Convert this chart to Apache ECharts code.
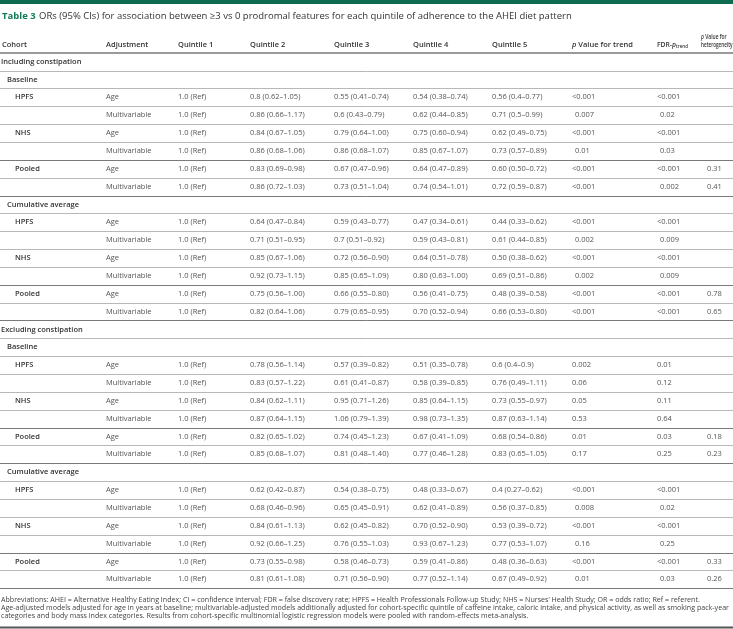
<!DOCTYPE html>
<html><head><meta charset="utf-8">
<script src="https://cdn.jsdelivr.net/npm/echarts@6.0.0/dist/echarts.min.js"></script>
<style>html,body{margin:0;padding:0;background:#fff}#c{width:733px;height:629px}</style>
</head><body><div id="c"></div>
<script>
// ---------- data ----------
const columnHeaders = ["Cohort","Adjustment","Quintile 1","Quintile 2","Quintile 3","Quintile 4","Quintile 5","p Value for trend","FDR-p trend","p Value for heterogeneity"];
const rowLabels = ["Including constipation","Baseline","HPFS","","NHS","","Pooled","","Cumulative average","HPFS","","NHS","","Pooled","",
  "Excluding constipation","Baseline","HPFS","","NHS","","Pooled","","Cumulative average","HPFS","","NHS","","Pooled",""];
const rowLevel = [0,1,2,3,2,3,2,3,1,2,3,2,3,2,3, 0,1,2,3,2,3,2,3,1,2,3,2,3,2,3];
const adjustment = ["","","Age","Multivariable","Age","Multivariable","Age","Multivariable","","Age","Multivariable","Age","Multivariable","Age","Multivariable",
  "","","Age","Multivariable","Age","Multivariable","Age","Multivariable","","Age","Multivariable","Age","Multivariable","Age","Multivariable"];
const quintile1 = rowLevel.map(l => (l >= 2 ? "1.0 (Ref)" : ""));
const quintile2 = ["","","0.8 (0.62–1.05)","0.86 (0.66–1.17)","0.84 (0.67–1.05)","0.86 (0.68–1.06)","0.83 (0.69–0.98)","0.86 (0.72–1.03)","","0.64 (0.47–0.84)","0.71 (0.51–0.95)","0.85 (0.67–1.06)","0.92 (0.73–1.15)","0.75 (0.56–1.00)","0.82 (0.64–1.06)",
  "","","0.78 (0.56–1.14)","0.83 (0.57–1.22)","0.84 (0.62–1.11)","0.87 (0.64–1.15)","0.82 (0.65–1.02)","0.85 (0.68–1.07)","","0.62 (0.42–0.87)","0.68 (0.46–0.96)","0.84 (0.61–1.13)","0.92 (0.66–1.25)","0.73 (0.55–0.98)","0.81 (0.61–1.08)"];
const quintile3 = ["","","0.55 (0.41–0.74)","0.6 (0.43–0.79)","0.79 (0.64–1.00)","0.86 (0.68–1.07)","0.67 (0.47–0.96)","0.73 (0.51–1.04)","","0.59 (0.43–0.77)","0.7 (0.51–0.92)","0.72 (0.56–0.90)","0.85 (0.65–1.09)","0.66 (0.55–0.80)","0.79 (0.65–0.95)",
  "","","0.57 (0.39–0.82)","0.61 (0.41–0.87)","0.95 (0.71–1.26)","1.06 (0.79–1.39)","0.74 (0.45–1.23)","0.81 (0.48–1.40)","","0.54 (0.38–0.75)","0.65 (0.45–0.91)","0.62 (0.45–0.82)","0.76 (0.55–1.03)","0.58 (0.46–0.73)","0.71 (0.56–0.90)"];
const quintile4 = ["","","0.54 (0.38–0.74)","0.62 (0.44–0.85)","0.75 (0.60–0.94)","0.85 (0.67–1.07)","0.64 (0.47–0.89)","0.74 (0.54–1.01)","","0.47 (0.34–0.61)","0.59 (0.43–0.81)","0.64 (0.51–0.78)","0.80 (0.63–1.00)","0.56 (0.41–0.75)","0.70 (0.52–0.94)",
  "","","0.51 (0.35–0.78)","0.58 (0.39–0.85)","0.85 (0.64–1.15)","0.98 (0.73–1.35)","0.67 (0.41–1.09)","0.77 (0.46–1.28)","","0.48 (0.33–0.67)","0.62 (0.41–0.89)","0.70 (0.52–0.90)","0.93 (0.67–1.23)","0.59 (0.41–0.86)","0.77 (0.52–1.14)"];
const quintile5 = ["","","0.56 (0.4–0.77)","0.71 (0.5–0.99)","0.62 (0.49–0.75)","0.73 (0.57–0.89)","0.60 (0.50–0.72)","0.72 (0.59–0.87)","","0.44 (0.33–0.62)","0.61 (0.44–0.85)","0.50 (0.38–0.62)","0.69 (0.51–0.86)","0.48 (0.39–0.58)","0.66 (0.53–0.80)",
  "","","0.6 (0.4–0.9)","0.76 (0.49–1.11)","0.73 (0.55–0.97)","0.87 (0.63–1.14)","0.68 (0.54–0.86)","0.83 (0.65–1.05)","","0.4 (0.27–0.62)","0.56 (0.37–0.85)","0.53 (0.39–0.72)","0.77 (0.53–1.07)","0.48 (0.36–0.63)","0.67 (0.49–0.92)"];
const pTrend = ["","","<0.001","0.007","<0.001","0.01","<0.001","<0.001","","<0.001","0.002","<0.001","0.002","<0.001","<0.001",
  "","","0.002","0.06","0.05","0.53","0.01","0.17","","<0.001","0.008","<0.001","0.16","<0.001","0.01"];
const fdrTrend = ["","","<0.001","0.02","<0.001","0.03","<0.001","0.002","","<0.001","0.009","<0.001","0.009","<0.001","<0.001",
  "","","0.01","0.12","0.11","0.64","0.03","0.25","","<0.001","0.02","<0.001","0.25","<0.001","0.03"];
const pHet = ["","","","","","","0.31","0.41","","","","","","0.78","0.65",
  "","","","","","","0.18","0.23","","","","","","0.33","0.26"];
const titleNumber = "Table 3";
const titleText = "ORs (95% CIs) for association between ≥3 vs 0 prodromal features for each quintile of adherence to the AHEI diet pattern";
const footnotes = [
  "Abbreviations: AHEI = Alternative Healthy Eating Index; CI = confidence interval; FDR = false discovery rate; HPFS = Health Professionals Follow-up Study; NHS = Nurses’ Health Study; OR = odds ratio; Ref = referent.",
  "Age-adjusted models adjusted for age in years at baseline; multivariable-adjusted models additionally adjusted for cohort-specific quintile of caffeine intake, caloric intake, and physical activity, as well as smoking pack-year",
  "categories and body mass index categories. Results from cohort-specific multinomial logistic regression models were pooled with random-effects meta-analysis."
];

// ---------- layout / style ----------
const W = 733;
const colX = [2, 106, 178, 250, 334, 413, 492, 572, 657, 707];
const hetHeaderX = 701;
const labelIndent = [1, 7, 15, 15];
const GREEN = "#137a5c";
const BOLD = "600 7.5px 'Open Sans', sans-serif";
const NORM = "400 7.5px 'Open Sans', sans-serif";
const TXT = "#555";
const DARK = "#333";

// block id per row (a block = rows under one Baseline / Cumulative average heading)
const blockId = [];
rowLevel.reduce((b, l, i) => { if (l <= 1) b++; blockId[i] = b; return b; }, 0);
function blockHasLess(arr, i) {
  return arr.some((v, j) => blockId[j] === blockId[i] && v.charAt(0) === '<');
}

const chart = echarts.init(document.getElementById('c'), null, {renderer: 'canvas'});
const cols = [adjustment, quintile1, quintile2, quintile3, quintile4, quintile5, pTrend, fdrTrend, pHet];

function renderItem(params, api) {
  const i = api.value(1);
  const c = api.coord([0, i]);
  const xr = api.coord([W, i])[0];
  const h = api.size([0, 1])[1];
  const y = c[1];
  const ch = [];
  if (rowLabels[i]) {
    ch.push({type: 'text', style: {text: rowLabels[i], x: api.coord([labelIndent[rowLevel[i]], i])[0], y: y,
      verticalAlign: 'middle', font: BOLD, fill: DARK}});
  }
  cols.forEach((arr, k) => {
    if (!arr[i]) return;
    let dx = 0;
    if ((k === 6 || k === 7) && arr[i].charAt(0) !== '<' && blockHasLess(arr, i)) dx = 3;
    ch.push({type: 'text', style: {text: arr[i], x: api.coord([colX[k + 1] + dx, i])[0], y: y,
      verticalAlign: 'middle', font: NORM, fill: TXT}});
  });
  const next = rowLabels[i + 1];
  const dark = next === "Pooled" || (rowLevel[i] === 3 && rowLabels[i - 1] === "Pooled");
  const ly = Math.round(y + h / 2) + 0.5;
  ch.push({type: 'line', shape: {x1: c[0], y1: ly, x2: xr, y2: ly},
    style: {stroke: dark ? '#7a7a7a' : '#b8b8b8', lineWidth: 1}});
  return {type: 'group', children: ch};
}

const RB = {fontWeight: 600, fontSize: 7.5, fontFamily: 'Open Sans', fill: DARK};
const headerGraphics = [];
const hy = 45;
[0,1,2,3,4,5,6].forEach(k => headerGraphics.push({type: 'text', x: colX[k], y: hy,
  style: {text: columnHeaders[k], font: BOLD, fill: DARK, verticalAlign: 'middle'}}));
headerGraphics.push({type: 'text', x: colX[7], y: hy, style: {
  text: '{i|p}{a| Value for trend}', verticalAlign: 'middle',
  rich: {i: Object.assign({}, RB, {fontStyle: 'italic'}), a: RB}}});
headerGraphics.push({type: 'text', x: colX[8], y: hy, scaleX: 0.9, style: {
  text: '{a|FDR-}{i|p}{s|trend}', verticalAlign: 'middle',
  rich: {a: RB, i: Object.assign({}, RB, {fontStyle: 'italic'}),
         s: {fontWeight: 600, fontSize: 5, fontFamily: 'Open Sans', fill: DARK, padding: [4, 0, 0, 0]}}}});
headerGraphics.push({type: 'text', x: hetHeaderX, y: hy - 8.5, scaleX: 0.66, style: {
  text: '{i|p}{a| Value for}', verticalAlign: 'middle',
  rich: {i: Object.assign({}, RB, {fontStyle: 'italic'}), a: RB}}});
headerGraphics.push({type: 'text', x: hetHeaderX, y: hy, scaleX: 0.62,
  style: {text: 'heterogeneity', font: BOLD, fill: DARK, verticalAlign: 'middle'}});

const option = {
  animation: false,
  grid: {left: 0, right: 0, top: 52.7, height: 535.5},
  xAxis: {type: 'value', min: 0, max: W, show: false},
  yAxis: {type: 'category', inverse: true, show: false, data: rowLabels.map((_, i) => String(i))},
  series: [{type: 'custom', renderItem: renderItem, data: rowLabels.map((_, i) => [0, i]), silent: true}],
  graphic: [
    {type: 'rect', shape: {x: 0, y: 0, width: W, height: 4}, style: {fill: '#0f6b50'}},
    {type: 'text', x: 2, y: 16, style: {text: '{b|' + titleNumber + '} {n|' + titleText + '}', verticalAlign: 'middle',
      rich: {b: {fontWeight: 700, fontSize: 9.5, fontFamily: 'Open Sans', fill: GREEN},
             n: {fontWeight: 400, fontSize: 9.5, fontFamily: 'Open Sans', fill: '#333'}}}},
    ...headerGraphics,
    {type: 'line', shape: {x1: 0, y1: 53, x2: W, y2: 53}, style: {stroke: '#9a9a9a', lineWidth: 2}},
    ...footnotes.map((t, k) => ({type: 'text', x: 1, y: 600 + k * 8, style: {text: t, font: "400 7.1px 'Open Sans', sans-serif", fill: '#444', verticalAlign: 'middle'}})),
    {type: 'line', shape: {x1: 0, y1: 627.5, x2: W, y2: 627.5}, style: {stroke: '#555', lineWidth: 2}}
  ]
};
chart.setOption(option);
</script></body></html>
